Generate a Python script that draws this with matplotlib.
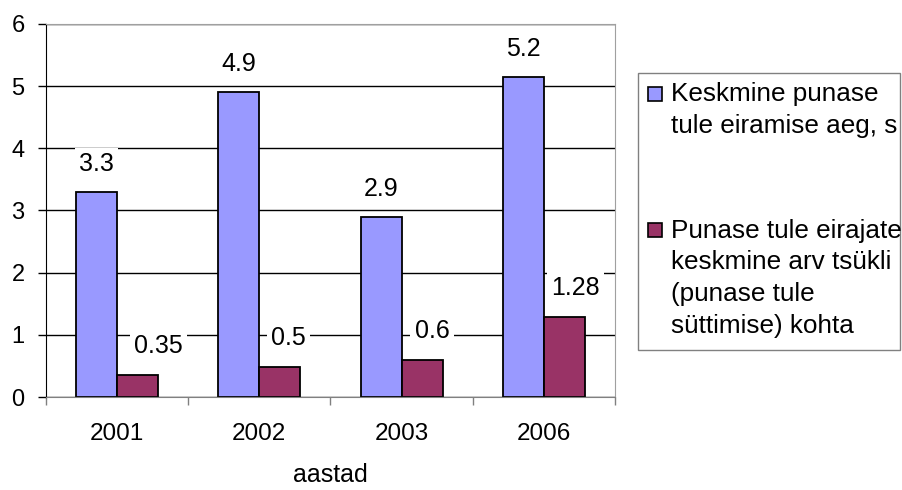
import numpy as np
import matplotlib.pyplot as plt
from matplotlib.patches import Rectangle

plt.rcParams['font.family'] = ['Liberation Sans', 'DejaVu Sans']

# --- data ---
years = ['2001', '2002', '2003', '2006']
avg_time = [3.3, 4.9, 2.9, 5.15]          # Keskmine punase tule eiramise aeg, s
avg_time_labels = ['3.3', '4.9', '2.9', '5.2']
violators = [0.35, 0.49, 0.6, 1.28]       # eirajate keskmine arv tsükli kohta
violators_labels = ['0.35', '0.5', '0.6', '1.28']

legend_labels = ['Keskmine punase\ntule eiramise aeg, s',
                 'Punase tule eirajate\nkeskmine arv tsükli\n(punase tule\nsüttimise) kohta']

BLUE = '#9999ff'
RED = '#993366'
W, H = 902, 490

fig = plt.figure(figsize=(W / 100, H / 100), dpi=100)
ax = fig.add_axes([45.7 / W, 1 - 397 / H, (615 - 45.7) / W, (397 - 24) / H])

x = np.arange(len(years))
bw = 0.288
ax.bar(x - bw / 2, avg_time, bw, color=BLUE, edgecolor='black', linewidth=1.3, zorder=2)
ax.bar(x + bw / 2, violators, bw, color=RED, edgecolor='black', linewidth=1.3, zorder=2)

# data labels (white boxes break the gridlines like in Excel)
px = 0.72
lab_box = dict(fc='white', ec='none', pad=3)
for xi, h, t in zip(x - bw / 2, avg_time, avg_time_labels):
    ax.annotate(t, (xi, h), xytext=(0, 28 * px), textcoords='offset points',
                ha='center', va='center', fontsize=18, bbox=lab_box, zorder=3)
red_dx = [21, 9, 10, 11]
for xi, h, t, dx in zip(x + bw / 2, violators, violators_labels, red_dx):
    ax.annotate(t, (xi, h), xytext=(dx * px, 29 * px), textcoords='offset points',
                ha='center', va='center', fontsize=18, bbox=lab_box, zorder=3)

ax.set_xlim(-0.5, len(years) - 0.5)
ax.set_ylim(0, 6)
ax.set_yticks(range(7))
ax.yaxis.grid(True, color='black', linewidth=1.0)
ax.set_axisbelow(True)

ax.set_xticks(x, years)
ax.set_xticks(np.arange(len(years) + 1) - 0.5, minor=True)
ax.tick_params(axis='x', which='major', length=0, pad=18.5, labelsize=17.5)
ax.tick_params(axis='x', which='minor', length=5.8, color='#808080', width=1)
ax.tick_params(axis='y', length=5.8, width=1, pad=9.4, labelsize=17)
ax.set_xlabel('aastad', fontsize=18, labelpad=13)

for s in ['top', 'right']:
    ax.spines[s].set_color('#a0a0a0')
ax.spines['bottom'].set_color('#808080')
ax.spines['left'].set_color('black')

# legend drawn like the Excel box
fig.patches.append(Rectangle((638 / W, 1 - 350 / H), (900 - 638) / W, (350 - 73) / H,
                             transform=fig.transFigure, fc='white', ec='#808080', lw=1))
for color, label, ytop in zip([BLUE, RED], legend_labels, [87, 223]):
    fig.patches.append(Rectangle((648 / W, 1 - (ytop + 14) / H), 14 / W, 14 / H,
                                 transform=fig.transFigure, fc=color, ec='black', lw=1.2))
    fig.text(671 / W, 1 - (ytop - 4.5) / H, label, fontsize=18.8, va='top', ha='left',
             linespacing=1.42)

fig.savefig('out.png', dpi=100)
